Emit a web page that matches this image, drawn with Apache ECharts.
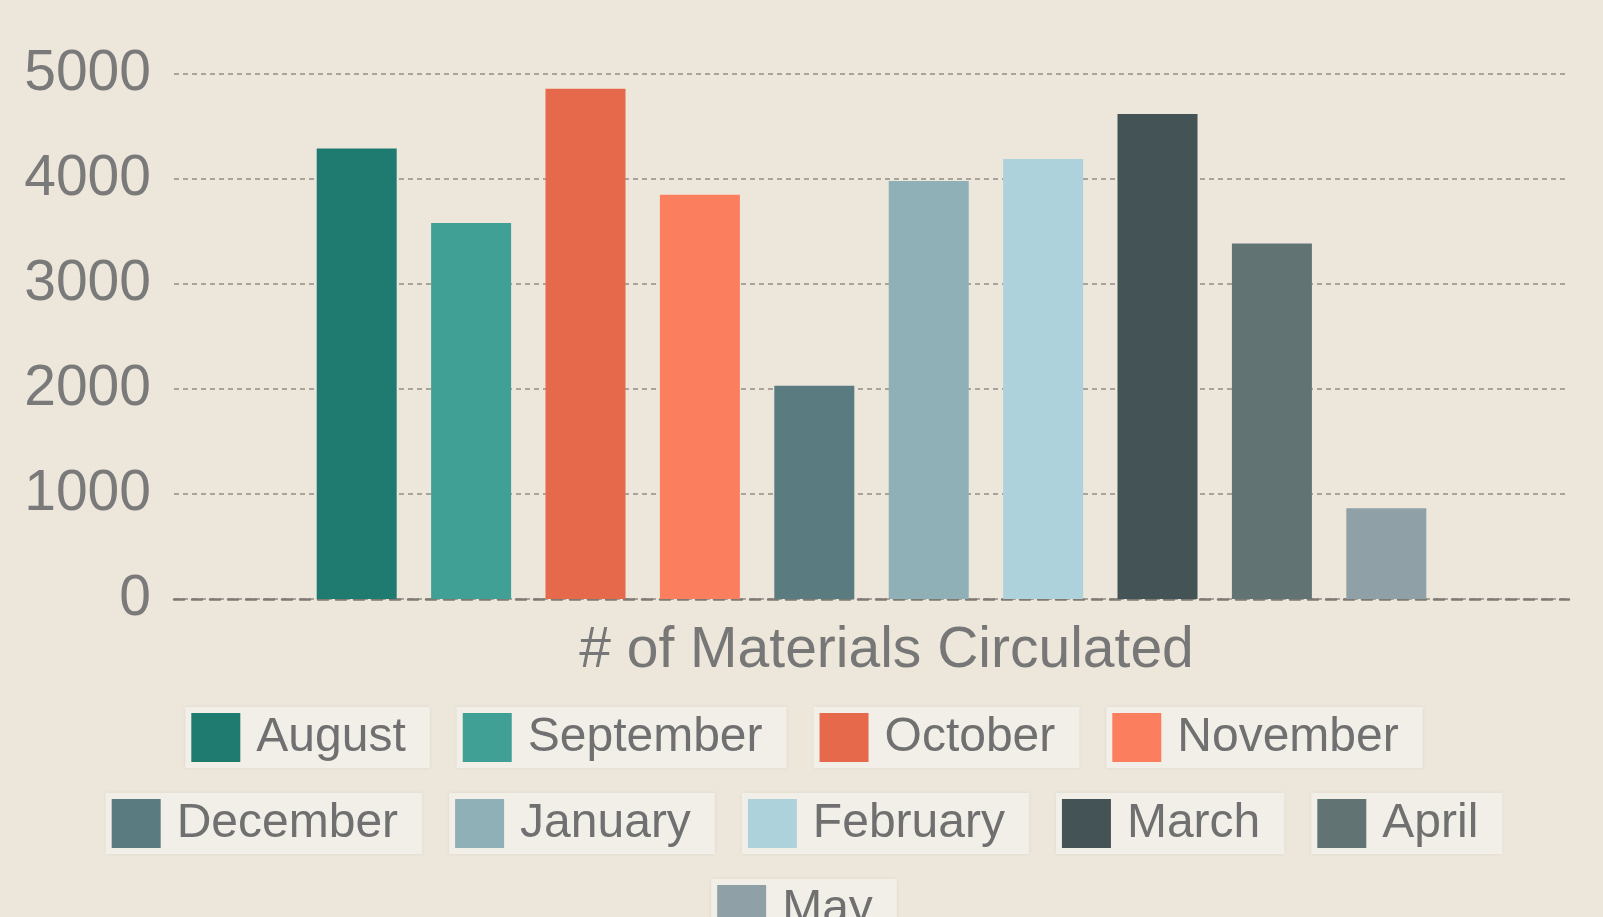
<!DOCTYPE html>
<html>
<head>
<meta charset="utf-8">
<script src="https://cdn.jsdelivr.net/npm/echarts@6/dist/echarts.min.js"></script>
<style>
  html, body { margin: 0; padding: 0; background: #ede7db; }
  #chart { width: 1603px; height: 917px; }
</style>
</head>
<body>
<div id="chart"></div>
<script>
const categories = ['# of Materials Circulated'];
const months = ['August', 'September', 'October', 'November', 'December', 'January', 'February', 'March', 'April', 'May'];
const values = [4290, 3580, 4860, 3850, 2030, 3980, 4190, 4620, 3385, 865];
const colors = ['#1f7b70', '#40a096', '#e5694a', '#fb7f5f', '#5a7b80', '#8fb0b7', '#aed2dc', '#435356', '#627373', '#8fa1a6'];
const yTicks = [0, 1000, 2000, 3000, 4000, 5000];
const legendRows = [
  ['August', 'September', 'October', 'November'],
  ['December', 'January', 'February', 'March', 'April'],
  ['May']
];

const FONT = '"Liberation Sans", Arial, sans-serif';
const rich = { t: { fontSize: 48, color: '#707070', fontFamily: FONT, padding: [0, 0, 0, 16] } };
months.forEach((m, i) => {
  rich['i' + i] = { width: 49, height: 49, backgroundColor: colors[i] };
});

const legendTops = [702, 788, 874];
const legends = legendRows.map((row, r) => ({
  data: row,
  top: legendTops[r],
  left: 'center',
  orient: 'horizontal',
  itemWidth: 0,
  itemHeight: 0,
  itemGap: 22,
  selectedMode: false,
  formatter: name => '{i' + months.indexOf(name) + '|}{t|' + name + '}',
  textStyle: {
    fontFamily: FONT,
    fontSize: 48,
    color: '#707070',
    backgroundColor: '#f2efe9',
    padding: [6, 24, 6, 6],
    shadowColor: 'rgba(0,0,0,0.06)',
    shadowBlur: 4,
    rich: rich
  }
}));

const chart = echarts.init(document.getElementById('chart'), null, { renderer: 'canvas' });
chart.setOption({
  backgroundColor: '#ede7db',
  animation: false,
  grid: { left: 174, right: 34, top: 74, bottom: 318, containLabel: false },
  legend: legends,
  xAxis: {
    type: 'category',
    data: categories,
    name: categories[0],
    nameLocation: 'middle',
    nameGap: 24,
    nameTextStyle: { fontFamily: FONT, fontSize: 57, color: '#777777', padding: [0, 0, 0, 30], verticalAlign: 'top' },
    axisLine: { show: true, lineStyle: { color: '#7f7a74', type: [10, 8], width: 2.5 } },
    axisTick: { show: false },
    axisLabel: { show: false }
  },
  yAxis: {
    type: 'value',
    min: yTicks[0],
    max: yTicks[yTicks.length - 1],
    interval: 1000,
    axisLabel: { fontFamily: FONT, fontSize: 57, color: '#7a7a7a', margin: 23, formatter: v => String(v) },
    axisLine: { show: false },
    axisTick: { show: false },
    splitLine: { show: true, lineStyle: { color: '#938e87', type: [5, 4], width: 1.5 } }
  },
  series: months.map((m, i) => ({
    name: m,
    type: 'bar',
    data: [values[i]],
    barWidth: 80,
    barGap: '43%',
    itemStyle: { color: colors[i] }
  }))
});
</script>
</body>
</html>
